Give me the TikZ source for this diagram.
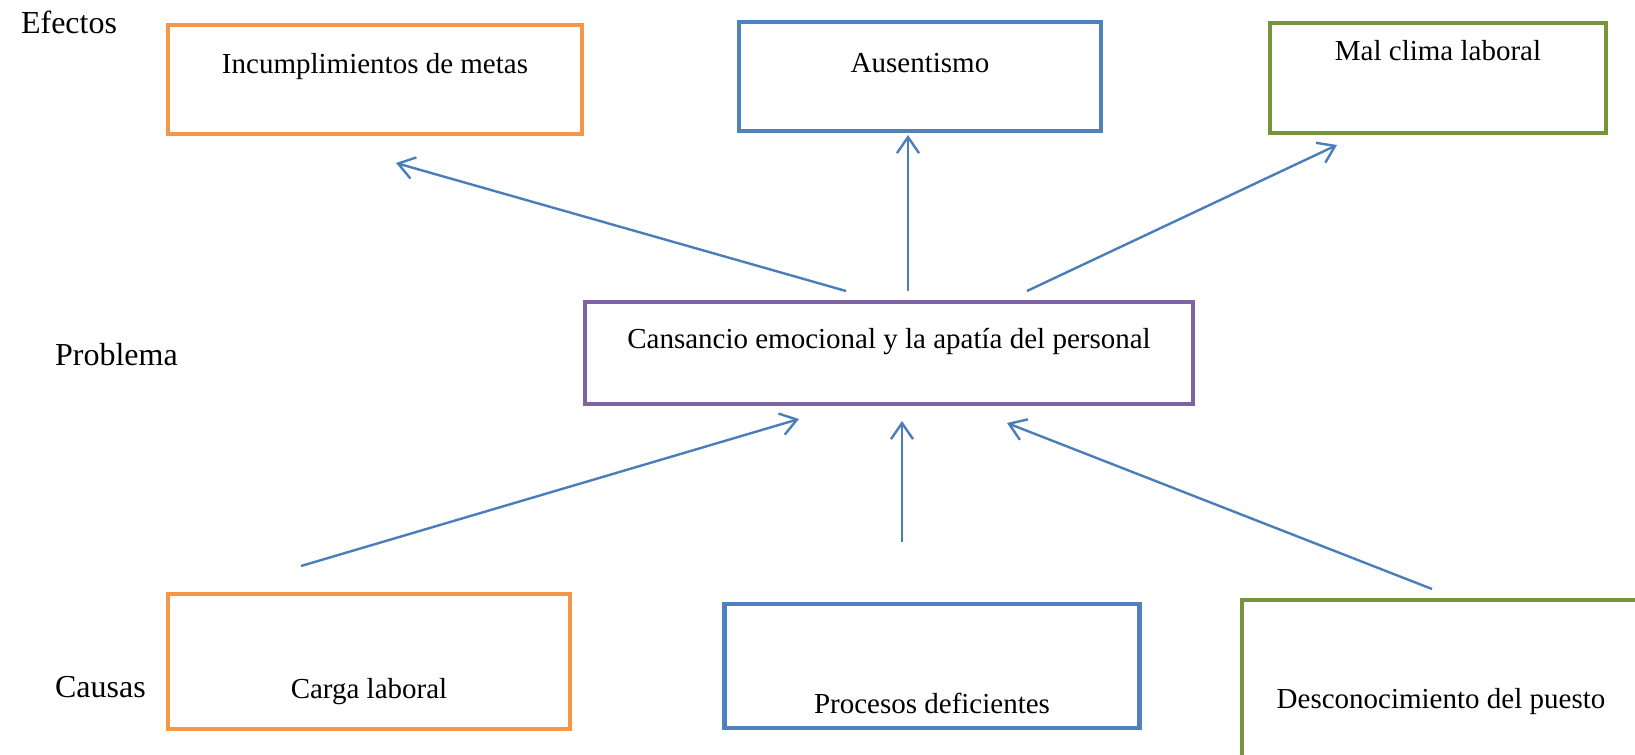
\documentclass[tikz,border=0pt]{standalone}
\usepackage{fontspec}
\setmainfont{Liberation Serif}
\usetikzlibrary{arrows.meta}
\definecolor{naranja}{HTML}{F79646}
\definecolor{azul}{HTML}{4F81BD}
\definecolor{verde}{HTML}{77933C}
\definecolor{morado}{HTML}{8064A2}
\definecolor{azulf}{HTML}{4A7EBB}
\begin{document}
\begin{tikzpicture}[x=0.5pt, y=-0.5pt,
    caja/.style={draw, rectangle, line width=2.25pt, outer sep=0pt, inner ysep=0pt, anchor=base, font=\fontsize{14.5}{17}\selectfont},
    etiqueta/.style={anchor=base west, font=\fontsize{16}{19}\selectfont},
    flecha/.style={-{Straight Barb[length=8pt,width=11pt]}, line width=1.2pt, draw=azulf}]
    \useasboundingbox (0,0) rectangle (1635,755);
    \clip (0,0) rectangle (1635,755);

    % Define labels
    \node[etiqueta] (efectos) at (14,33) {Efectos};
    \node[etiqueta] (problema) at (48,365) {Problema};
    \node[etiqueta] (causas) at (48,697) {Causas};

    % Effects
    \node[caja, draw=naranja, minimum width=207pt, text height=24pt, text depth=30.5pt] (inc) at (375,73) {Incumplimientos de metas};
    \node[caja, draw=azul, minimum width=181pt, text height=25pt, text depth=29.5pt] (aus) at (920,72) {Ausentismo};
    \node[caja, draw=verde, minimum width=168pt, text height=19pt, text depth=36pt] (mal) at (1438,61) {Mal clima laboral};

    % Problem
    \node[caja, draw=morado, minimum width=304pt, text height=23pt, text depth=28pt] (prob) at (889,348) {Cansancio emocional y la apatía del personal};

    % Causes
    \node[caja, draw=naranja, minimum width=201pt, text height=52pt, text depth=15.5pt] (carga) at (369,698) {Carga laboral};
    \node[caja, draw=azul, minimum width=207.5pt, text height=54.5pt, text depth=7.5pt] (proc) at (932,713) {Procesos deficientes};
    \node[caja, draw=verde, minimum width=199pt, text height=54pt, text depth=31pt] (desc) at (1441,708) {Desconocimiento del puesto};

    % Arrow ends
    \coordinate (p1) at ([shift={(-43,-11)}]prob.north);
    \coordinate (p2) at ([shift={(19,-11)}]prob.north);
    \coordinate (p3) at ([shift={(138,-11)}]prob.north);
    \coordinate (e1) at ([shift={(21,29)}]inc.south);
    \coordinate (e2) at ([shift={(-12,4)}]aus.south);
    \coordinate (e3) at ([shift={(-101,12)}]mal.south);
    \coordinate (c1) at ([shift={(-68,-28)}]carga.north);
    \coordinate (c2) at ([shift={(-30,-62)}]proc.north);
    \coordinate (c3) at ([shift={(-9,-11)}]desc.north);
    \coordinate (q1) at ([shift={(-90,15)}]prob.south);
    \coordinate (q2) at ([shift={(13,17)}]prob.south);
    \coordinate (q3) at ([shift={(118,19)}]prob.south);

    % Problem to effects
    \draw[flecha] (p1) -- (e1);
    \draw[flecha] (p2) -- (e2);
    \draw[flecha] (p3) -- (e3);

    % Causes to problem
    \draw[flecha] (c1) -- (q1);
    \draw[flecha] (c2) -- (q2);
    \draw[flecha] (c3) -- (q3);

\end{tikzpicture}
\end{document}
